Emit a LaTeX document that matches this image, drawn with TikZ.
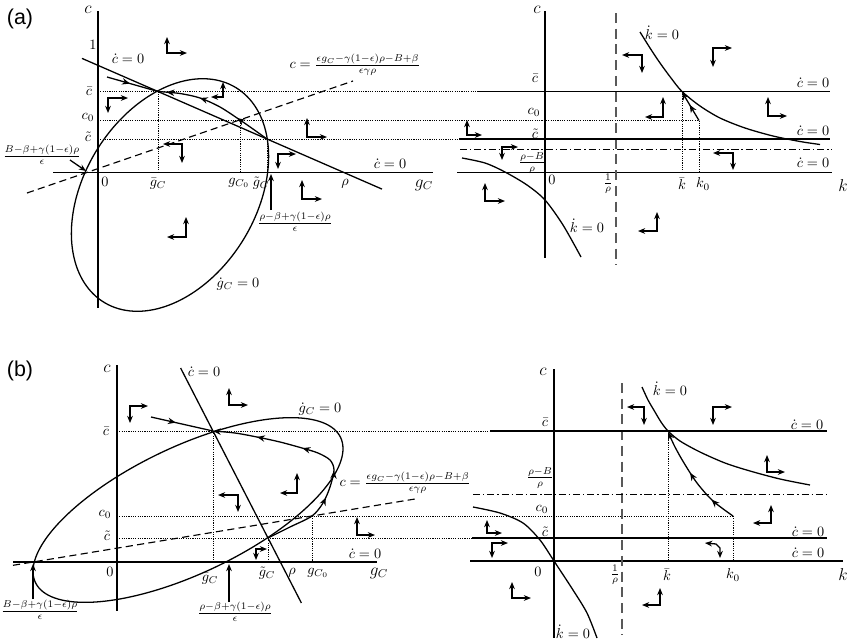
\documentclass[tikz,border=0pt]{standalone}
\usepackage{fontspec}
\newfontfamily\labfont{Liberation Sans}
\usetikzlibrary{arrows.meta,decorations.markings}
\newcommand\mytip{\arrow{Stealth[length=5.5pt,width=4.5pt]}}
\newcommand\fieldL[4]{\draw[fld] (#1,{#2+#4}) -- (#1,#2) -- ({#1+#3},#2);}
\tikzset{
  axisline/.style={line width=1.3pt},
  curve/.style={line width=0.9pt},
  dotl/.style={line width=0.6pt, dash pattern=on 0.8pt off 0.8pt},
  dashl/.style={line width=0.8pt, dash pattern=on 5pt off 3pt},
  vdash/.style={line width=1.1pt, draw=black!65, dash pattern=on 7pt off 4pt},
  dashdot/.style={line width=0.7pt, dash pattern=on 5pt off 2pt on 1pt off 2pt},
  fld/.style={line width=0.9pt, {Stealth[length=5pt,width=4pt]}-{Stealth[length=5pt,width=4pt]}},
  ptr/.style={line width=0.9pt, -{Stealth[length=5pt,width=4pt]}},
  endtip/.style={-{Stealth[length=5.5pt,width=4.5pt]}},
  lab/.style={inner sep=0pt},
  big/.style={inner sep=0pt, font=\large},
  panel/.style={inner sep=0pt, font=\labfont\fontsize{15}{17}\selectfont},
}
\begin{document}
\begin{tikzpicture}[x=0.7pt,y=-0.7pt]
\useasboundingbox (0,0) rectangle (851,642);

%%%%%%%%%%%%%%%% Panel (a) left
\node[panel] (pa) at (20,19) {(a)};
\coordinate (E1a) at (158,91.5);
\coordinate (E2a) at (267,139);
\draw[axisline] (98,11) -- (98,308);
\draw[axisline] (53,172.5) -- (433,172.5);
\draw[dotl] (98,91.5) -- (478,91.5);
\draw[dotl] (98,120.5) -- (699,120.5);
\draw[dotl] (98,139) -- (459,139);
\draw[dotl] (E1a) -- (158,172.5);
\draw[dotl] (240,120.5) -- (240,172.5);
\draw[dotl] (E2a) -- (267,172.5);
\draw[curve] (82,58.4) -- (382,189.1);
\draw[dashl] (27,193) -- (353,81);
\draw[curve] plot[domain=0:360,samples=150,smooth] ({170+66.2*cos(\x)+73.1*sin(\x)},{195-107.2*cos(\x)+45.1*sin(\x)});
\draw[curve, postaction={decorate}, decoration={markings,
  mark=at position 0.3 with {\mytip}, mark=at position 0.65 with {\mytip},
  mark=at position 0.93 with {\mytip}}]
  plot[smooth] coordinates {(267,139) (253,129) (240,120) (220,107) (200,98) (180,93.5) (158,91.5)};
\draw[curve, postaction={decorate}, decoration={markings, mark=at position 0.45 with {\mytip}}] (107,77) -- (E1a);

\node[big] (ca) at (88,10) {$c$};
\node[lab] (one) at (93,45) {$1$};
\node[lab] (cdot1) at (128,59) {$\dot c=0$};
\node[lab] (dashlab) at (355,65) {$c=\frac{\epsilon g_C-\gamma(1-\epsilon)\rho-B+\beta}{\epsilon\gamma\rho}$};
\node[lab] (cbar) at (89,91) {$\bar c$};
\node[lab] (czero) at (88,117) {$c_0$};
\node[lab] (ctil) at (88,137) {$\tilde c$};
\node[lab] (fracL) at (42,155) {$\frac{B-\beta+\gamma(1-\epsilon)\rho}{\epsilon}$};
\coordinate (ptL) at (86,171);
\draw[ptr] (70,160) -- (ptL);
\node[lab] (cdot2) at (390,164) {$\dot c=0$};
\node[lab] (zero) at (105,182) {$0$};
\node[lab] (gbar) at (158,184) {$\bar g_C$};
\node[lab] (gc0) at (239,183) {$g_{C_0}$};
\node[lab] (gtil) at (261,183) {$\tilde g_C$};
\node[lab] (rho) at (345,184) {$\rho$};
\node[big] (gaxis) at (424,185) {$g_C$};
\node[lab] (fracR) at (295,222) {$\frac{\rho-\beta+\gamma(1-\epsilon)\rho}{\epsilon}$};
\coordinate (ptR) at (271,174);
\draw[ptr] (271,210) -- (ptR);
\node[lab] (gdot) at (238,284) {$\dot g_C=0$};

\fieldL{167}{53}{20}{-16}
\fieldL{108}{98}{20}{15}
\fieldL{223}{97}{-12}{-15}
\fieldL{307}{137}{20}{-19}
\fieldL{182}{144}{-19}{19}
\fieldL{278}{154}{18}{15}
\fieldL{302}{199}{20}{-19}
\fieldL{186}{237}{-19}{-20}

%%%%%%%%%%%%%%%% Panel (a) right
\draw[axisline] (545,11) -- (545,258);
\draw[axisline] (457,172.5) -- (832,172.5);
\draw[vdash] (616,13) -- (616,265);
\draw[curve] (478,91.5) -- (830,91.5);
\draw[curve] (459,139) -- (830,139);
\draw[dashdot] (460,149) -- (832,149);
\draw[dotl] (682,91.5) -- (682,172.5);
\draw[dotl] (699,120.5) -- (699,172.5);
\draw[curve] plot[smooth] coordinates {(640,32) (650,48) (660,63) (671,78) (682,91.5) (700,106) (720,118) (745,128) (773,136) (800,141.5) (820,144.5)};
\draw[curve] plot[smooth] coordinates {(462,158) (485,163) (505,172) (527,185) (545,200) (563,225) (581,257)};
\draw[curve, endtip, postaction={decorate}, decoration={markings,
  mark=at position 0.55 with {\mytip}}] (699,120.5) -- (682,92);

\node[big] (ca2) at (537,10) {$c$};
\node[lab] (kdot1) at (662,33) {$\dot k=0$};
\node[lab] (cbar2) at (535,78) {$\bar c$};
\node[lab] (cd3) at (813,83) {$\dot c=0$};
\node[lab] (c02) at (534,112) {$c_0$};
\node[lab] (ctil2) at (535,134) {$\tilde c$};
\node[lab] (cd4) at (813,131) {$\dot c=0$};
\node[lab] (rhoB) at (532,163) {$\frac{\rho-B}{\rho}$};
\node[lab] (cd5) at (813,163) {$\dot c=0$};
\node[lab] (zero2) at (552,180) {$0$};
\node[lab] (invrho) at (608,184) {$\frac{1}{\rho}$};
\node[lab] (kbar) at (682,184) {$\bar k$};
\node[lab] (k0) at (703,184) {$k_0$};
\node[big] (kaxis) at (843,186) {$k$};
\node[lab] (kdot2) at (587,226) {$\dot k=0$};

\fieldL{642}{55}{-20}{18}
\fieldL{713}{48}{19}{19}
\fieldL{663}{117}{-18}{-20}
\fieldL{768}{116}{19}{-19}
\fieldL{467}{135}{15}{-15}
\fieldL{502}{147}{16}{13}
\fieldL{733}{153}{-20}{17}
\fieldL{485}{201}{20}{-18}
\fieldL{657}{231}{-19}{-19}

%%%%%%%%%%%%%%%% Panel (b) left
\node[panel] (pb) at (20,371) {(b)};
\coordinate (E1b) at (213,431);
\coordinate (E2b) at (268,538);
\draw[axisline] (117,365) -- (117,611);
\draw[axisline] (13,562) -- (377,562);
\draw[dotl] (117,431) -- (490,431);
\draw[dotl] (117,516) -- (733,516);
\draw[dotl] (117,538) -- (472,538);
\draw[dotl] (E1b) -- (213,562);
\draw[dotl] (E2b) -- (268,562);
\draw[dotl] (312,516) -- (312,562);
\draw[curve] (180.6,368) -- (301.4,603);
\draw[dashl] (13,565.3) -- (418,498.5);
\draw[curve] plot[domain=0:360,samples=150,smooth] ({188+152.6*cos(\x)+27.2*sin(\x)},{510-72.5*cos(\x)+57.2*sin(\x)});
\draw[curve, endtip, postaction={decorate}, decoration={markings,
  mark=at position 0.31 with {\mytip}, mark=at position 0.43 with {\mytip},
  mark=at position 0.61 with {\mytip}, mark=at position 0.81 with {\mytip}}]
  plot[smooth] coordinates {(268,538) (290,527) (312,516) (323,503) (330,487) (334,470) (330,460) (318,453) (302,448) (280,442) (257,437) (235,433) (213,431)};
\draw[curve, postaction={decorate}, decoration={markings, mark=at position 0.4 with {\mytip}}] (151,417) -- (E1b);

\node[big] (cb) at (107,369) {$c$};
\node[lab] (cdb1) at (204,372) {$\dot c=0$};
\node[lab] (gdotb) at (320,409) {$\dot g_C=0$};
\node[lab] (cbarb) at (106,431) {$\bar c$};
\node[lab] (dashlabb) at (405,483) {$c=\frac{\epsilon g_C-\gamma(1-\epsilon)\rho-B+\beta}{\epsilon\gamma\rho}$};
\node[lab] (c0b) at (105,514) {$c_0$};
\node[lab] (ctilb) at (107,536) {$\tilde c$};
\node[lab] (cdb2) at (365,554) {$\dot c=0$};
\node[lab] (zerob) at (110,572) {$0$};
\node[lab] (gbarb) at (210,579) {$\bar g_C$};
\node[lab] (gtilb) at (267,573) {$\tilde g_C$};
\node[lab] (rhob) at (292,573) {$\rho$};
\node[lab] (gc0b) at (318,573) {$g_{C_0}$};
\node[big] (gaxisb) at (379,573) {$g_C$};
\node[lab] (fracLb) at (40,610) {$\frac{B-\beta+\gamma(1-\epsilon)\rho}{\epsilon}$};
\node[lab] (fracRb) at (235,612) {$\frac{\rho-\beta+\gamma(1-\epsilon)\rho}{\epsilon}$};
\coordinate (ptLb) at (33,564);
\coordinate (ptRb) at (229,564);
\draw[ptr] (33,599) -- (ptLb);
\draw[ptr] (229,602) -- (ptRb);

\fieldL{130}{406}{18}{17}
\fieldL{229}{405}{19}{-17}
\fieldL{297}{493}{-17}{-20}
\fieldL{238}{495}{-20}{17}
\fieldL{357}{535}{18}{-18}
\fieldL{256}{549}{11}{11}

%%%%%%%%%%%%%%%% Panel (b) right
\draw[axisline] (554,369) -- (554,638);
\draw[axisline] (470,561) -- (843,561);
\draw[vdash] (622,383) -- (622,635);
\draw[curve] (490,431) -- (827,431);
\draw[curve] (472,538) -- (827,538);
\draw[dashdot] (473,494) -- (827,494);
\draw[dotl] (668,431) -- (668,561);
\draw[dotl] (733,516) -- (733,561);
\draw[curve] plot[smooth] coordinates {(642,387) (648,400) (655,412) (661,422) (668,431) (680,441) (700,452) (725,463) (750,471) (780,479) (810,485)};
\draw[curve] plot[smooth] coordinates {(473,507) (500,513) (523,523) (540,540) (554,561) (573,590) (587,613) (597,638)};
\draw[curve, endtip, postaction={decorate}, decoration={markings,
  mark=at position 0.25 with {\mytip}, mark=at position 0.57 with {\mytip}}]
  plot[smooth] coordinates {(733,516) (713,501) (697,483) (684,463) (675,447) (668,432)};

\node[big] (cb2) at (543,372) {$c$};
\node[lab] (kdb1) at (670,389) {$\dot k=0$};
\node[lab] (cbarb2) at (545,422) {$\bar c$};
\node[lab] (cdb3) at (807,425) {$\dot c=0$};
\node[lab] (rhoBb) at (540,478) {$\frac{\rho-B}{\rho}$};
\node[lab] (c0b2) at (542,509) {$c_0$};
\node[lab] (ctilb2) at (545,532) {$\tilde c$};
\node[lab] (cdb4) at (808,532) {$\dot c=0$};
\node[lab] (cdb5) at (808,553) {$\dot c=0$};
\node[lab] (zerob2) at (538,572) {$0$};
\node[lab] (invrhob) at (615,575) {$\frac{1}{\rho}$};
\node[lab] (kbarb) at (667,575) {$\bar k$};
\node[lab] (k0b) at (733,575) {$k_0$};
\node[big] (kaxisb) at (843,575) {$k$};
\node[lab] (kdb2) at (573,632) {$\dot k=0$};

\fieldL{644}{407}{-17}{18}
\fieldL{713}{407}{19}{18}
\fieldL{767}{472}{18}{-17}
\fieldL{771}{523}{-18}{-18}
\fieldL{487}{533}{15}{-13}
\fieldL{492}{543}{16}{15}
\fieldL{512}{598}{19}{-16}
\fieldL{660}{605}{-18}{-17}
\draw[fld] (705,543) -- (716,544) -- (720,548) -- (720,558);
\end{tikzpicture}
\end{document}
